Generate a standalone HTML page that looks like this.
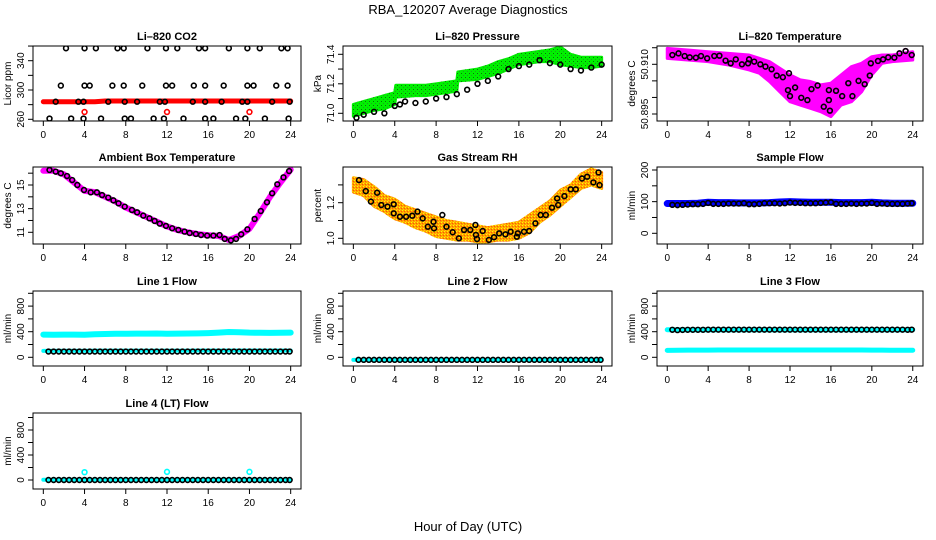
<!DOCTYPE html>
<html><head><meta charset="utf-8"><style>
html,body{margin:0;padding:0;background:#fff;}
svg{display:block;font-family:"Liberation Sans",Arial,sans-serif;}
</style></head><body>
<svg id="chart" width="936" height="540" viewBox="0 0 936 540" xmlns="http://www.w3.org/2000/svg">
<defs>
<pattern id="pg" width="4" height="4" patternUnits="userSpaceOnUse"><rect width="4" height="4" fill="#00f000"/><rect x="1" y="1" width="1" height="1" fill="#008000"/><rect x="3" y="3" width="1" height="1" fill="#20a020"/></pattern>
<pattern id="po" width="3" height="3" patternUnits="userSpaceOnUse"><rect width="3" height="3" fill="#ff9f00"/><rect width="1" height="1" fill="#ffff00"/><rect x="2" y="1" width="1" height="1" fill="#ff5a00"/><rect x="1" y="2" width="1" height="1" fill="#ffd000"/></pattern>
</defs>
<text x="468" y="14" text-anchor="middle" font-size="13">RBA_120207  Average Diagnostics</text>
<text x="468" y="531" text-anchor="middle" font-size="13">Hour of Day (UTC)</text>
<g id="plots"></g>
</svg>
<script>
// ---------- data ----------
const xTicks=[0,4,8,12,16,20,24];
const hrs=[0,1,2,3,4,5,6,7,8,9,10,11,12,13,14,15,16,17,18,19,20,21,22,23,24];
const halfHrs=[0.5,1,1.5,2,2.5,3,3.5,4,4.5,5,5.5,6,6.5,7,7.5,8,8.5,9,9.5,10,10.5,11,11.5,12,12.5,13,13.5,14,14.5,15,15.5,16,16.5,17,17.5,18,18.5,19,19.5,20,20.5,21,21.5,22,22.5,23,23.5,23.9];

// CO2
const co2BlackX=[2.2,4.0,5.1,7.2,7.8,10.1,11.9,13.0,15.1,15.7,18.0,19.8,21.0,23.1,23.7, 1.7,4.0,4.5,6.7,7.8,9.6,11.9,12.5,14.6,15.7,17.5,19.8,20.4,22.6,23.7, 0.6,2.7,3.9,5.6,7.9,8.5,10.7,11.7,13.6,15.7,16.5,18.7,19.6,21.5,23.8, 1.2,3.4,3.9,6.3,7.9,9.1,11.3,11.8,14.5,15.7,17.3,19.3,19.8,22.2,23.9];
const co2BlackY=[357,357,357,357,357,357,357,357,357,357,357,357,357,357,357, 306,306,306,306,306,306,306,306,306,306,306,306,306,306,306, 261,261,261,261,261,261,261,261,261,261,261,261,261,261,261, 284,284,284,284,284,284,284,284,284,284,284,284,284,284,284];
const co2RedBand=[284,284,284,284,284,284,285,285,285,285,285,285,285,285,285,285,285,285,285,285,285,285,285,285,285];
const co2RedX=[4,12,20];
const co2RedY=[270,270,270];

// Pressure
const presLow=[70.98,71.00,71.02,71.03,71.06,71.11,71.12,71.12,71.13,71.14,71.15,71.22,71.23,71.25,71.27,71.30,71.33,71.34,71.35,71.35,71.33,71.32,71.31,71.31,71.32];
const presHigh=[71.06,71.08,71.10,71.12,71.14,71.19,71.19,71.19,71.20,71.21,71.22,71.28,71.30,71.32,71.35,71.37,71.40,71.41,71.42,71.43,71.45,71.40,71.38,71.38,71.38];
const presBlackX=[0.3,1,2,3,4,4.5,5,6,7,8,9,10,11,12,13,14,15,16,17,18,19,20,21,22,23,24];
const presBlackY=[70.97,70.99,71.01,71.00,71.05,71.06,71.08,71.07,71.08,71.10,71.11,71.13,71.16,71.20,71.22,71.25,71.30,71.32,71.33,71.36,71.34,71.33,71.30,71.29,71.31,71.33];

// Li-820 temperature
const tempLowX=[0,2,4,6,8,9,10,11,12,13,14,15,16,17,18,19,20,21,22,24];
const tempHigh=[50.9148,50.9143,50.9138,50.9133,50.9128,50.9118,50.9108,50.9088,50.9068,50.9053,50.9048,50.9038,50.9043,50.9068,50.9093,50.9103,50.9123,50.9128,50.9128,50.9138];
const tempLow=[50.9118,50.9113,50.9108,50.9098,50.9083,50.9073,50.9048,50.9017,50.8987,50.8977,50.8967,50.8957,50.8942,50.8977,50.8987,50.9017,50.9068,50.9103,50.9108,50.9113];
const tempBlackX=[0.5,1.1,1.7,2.2,2.8,3.3,3.9,4.6,5.1,5.7,6.2,6.7,7.3,7.9,8.0,8.5,9.1,9.6,10.2,10.7,11.3,11.9,11.8,12.0,12.5,13.1,13.7,14.1,14.7,15.3,15.8,15.8,15.9,16.5,17.1,17.7,18.1,18.7,19.3,19.8,19.9,20.6,21.1,21.6,22.2,22.7,23.3,23.9];
const tempBlackY=[50.9128,50.9133,50.9125,50.9121,50.912,50.9125,50.9118,50.9125,50.9126,50.9111,50.9103,50.9115,50.910,50.9103,50.9115,50.9108,50.910,50.9093,50.9085,50.9066,50.9061,50.9073,50.9022,50.9004,50.903,50.8999,50.8992,50.9025,50.9036,50.8972,50.8992,50.9022,50.896,50.902,50.9004,50.9043,50.9004,50.905,50.904,50.9066,50.9103,50.911,50.9115,50.9121,50.912,50.9133,50.914,50.9128];

// Ambient box temperature
const ambBand=[16.2,16.2,15.9,15.2,14.5,14.4,14.0,13.6,13.1,12.7,12.3,11.9,11.5,11.2,11.0,10.85,10.75,10.7,10.35,10.7,11.3,12.6,14.0,15.2,16.3];
const ambBlackX=[0.6,1.2,1.7,2.3,2.8,3.3,3.95,4.6,5.2,5.7,6.3,6.8,7.3,7.9,8.6,9.1,9.7,10.3,10.8,11.3,11.9,12.5,13.1,13.7,14.2,14.8,15.3,15.9,16.5,17.1,17.6,18.2,18.7,19.2,19.8,20.5,21.1,21.7,22.2,22.7,23.3,23.85];
const ambBlackY=[16.27,16.13,15.99,15.76,15.42,15.0,14.58,14.38,14.38,14.15,13.93,13.7,13.45,13.17,12.89,12.69,12.41,12.18,11.96,11.73,11.54,11.34,11.2,11.06,10.94,10.86,10.77,10.72,10.72,10.77,10.44,10.32,10.44,10.83,11.25,12.13,12.8,13.54,14.3,15.06,15.65,16.18];

// Gas stream RH
const rhLow=[1.26,1.24,1.18,1.15,1.11,1.09,1.06,1.04,1.01,1.00,0.99,0.99,0.98,0.98,0.99,0.99,1.00,1.03,1.09,1.13,1.18,1.23,1.28,1.30,1.28];
const rhHigh=[1.34,1.33,1.29,1.24,1.22,1.18,1.16,1.14,1.12,1.10,1.09,1.08,1.07,1.06,1.07,1.08,1.09,1.13,1.17,1.21,1.27,1.30,1.36,1.39,1.37];
const rhBlackX=[0.55,1.2,1.7,2.3,2.7,3.3,3.9,3.9,4.5,5.1,5.7,6.2,6.7,7.2,7.75,7.8,8.6,9.0,9.6,10.2,10.7,11.3,11.8,11.85,11.95,12.5,13.1,13.6,14.1,14.7,15.2,15.8,15.9,16.5,17.0,17.6,18.1,18.6,19.2,19.7,19.8,20.4,21.0,21.5,22.1,22.6,23.2,23.7,23.8];
const rhBlackY=[1.327,1.265,1.206,1.256,1.187,1.178,1.191,1.14,1.121,1.121,1.127,1.15,1.112,1.065,1.093,1.056,1.131,1.065,1.034,1.0,1.047,1.047,1.075,1.019,0.996,1.041,0.991,1.006,1.028,1.022,1.037,1.009,1.028,1.037,1.041,1.084,1.131,1.131,1.172,1.224,1.187,1.237,1.275,1.275,1.336,1.346,1.314,1.37,1.299];

// Sample flow
const sampleBand=[94,94,94,95,98,97,97,96,96,96,97,99,100,99,98,98,98,97,97,97,98,96,95,95,95];
const sampleBlack=[90,89,90,91,92,92,93,96,93,93,93,94,94,94,95,92,92,93,95,95,95,94,95,97,96,96,95,95,95,96,97,98,93,93,93,94,93,94,94,96,93,94,93,93,93,93,94,95];

// Line 1 flow
const l1Upper=[355,352,355,354,352,360,365,367,368,369,370,371,368,370,372,374,378,385,395,392,385,383,382,384,385];
const l1Lower=[100,102,103,103,103,104,104,104,104,104,105,105,105,105,105,106,106,106,106,106,106,106,106,106,106];
const l1Black=[90,90,90,90,90,90,90,90,90,90,90,90,90,90,90,90,90,90,90,90,90,90,90,90,90,90,90,90,90,90,90,90,90,90,90,90,90,90,90,90,90,90,90,90,90,90,90,90];

// Line 2 flow
const l2Band=[-40,-40,-40,-40,-40,-40,-40,-40,-40,-40,-40,-40,-40,-40,-40,-40,-40,-40,-40,-40,-40,-40,-40,-40,-40];
const l2Black=[-40,-40,-40,-40,-40,-40,-40,-40,-40,-40,-40,-40,-40,-40,-40,-40,-40,-40,-40,-40,-40,-40,-40,-40,-40,-40,-40,-40,-40,-40,-40,-40,-40,-40,-40,-40,-40,-40,-40,-40,-40,-40,-40,-40,-40,-40,-40,-40];

// Line 3 flow
const l3Upper=[430,428,428,428,428,428,428,428,428,428,428,428,428,428,428,428,428,428,428,428,428,428,428,428,430];
const l3Lower=[108,110,112,112,112,114,114,114,114,114,114,114,114,114,114,114,114,114,114,114,112,112,110,110,110];
const l3Black=[430,425,428,430,430,430,430,432,432,432,432,432,432,432,432,432,432,432,432,432,432,432,432,432,432,432,432,432,432,432,432,432,432,432,432,432,432,432,432,432,432,432,432,432,432,432,430,432];

// Line 4 flow
const l4Band=[5,5,5,5,5,5,5,5,5,5,5,5,5,5,5,5,5,5,5,5,5,5,5,5,5];
const l4Black=[0,0,0,0,0,0,0,0,0,0,0,0,0,0,0,0,0,0,0,0,0,0,0,0,0,0,0,0,0,0,0,0,0,0,0,0,0,0,0,0,0,0,0,0,0,0,0,0];
const l4OutX=[4,12,20];
const l4OutY=[125,130,130];

// ---------- layout ----------
const NS='http://www.w3.org/2000/svg';
const root=document.getElementById('plots');
function mk(tag,attrs,parent){const e=document.createElementNS(NS,tag);for(const k in attrs)e.setAttribute(k,attrs[k]);(parent||root).appendChild(e);return e;}
const colL=[33,343,657], colW=[268,269,266];
const rowT=[46,167,291,413], rowB=[121,244,366,489];

function makePanel(o){
  const L=colL[o.c], W=colW[o.c], T=rowT[o.r], B=rowB[o.r];
  const g=mk('g',{});
  
  
  const x0=L+W*0.0385, x24=L+W*0.9615;
  const X=h=>x0+(x24-x0)*h/24;
  const Y=v=>o.p1+(v-o.v1)*(o.p2-o.p1)/(o.v2-o.v1);
  o.X=X;o.Y=Y;o.g=g;
  const t=mk('text',{x:(L+W/2),y:T-6,'text-anchor':'middle','font-size':'11','font-weight':'bold'},g);
  t.textContent=o.title;
  
  
  const cp=mk('clipPath',{id:'cp'+o.id},g);
  mk('rect',{x:L,y:T,width:W,height:B-T},cp);
  const pg=mk('g',{'clip-path':'url(#cp'+o.id+')'},g);
  o.pg=pg;
  const box=mk('rect',{x:L,y:T,width:W,height:B-T,fill:'none',stroke:'#000','stroke-width':1},g);
  
  
  const xa=mk('g',{},g);
  
  
  xTicks.forEach(h=>{
    mk('line',{x1:X(h),x2:X(h),y1:B,y2:B+5,stroke:'#000'},xa);
    const tl=mk('text',{x:X(h),y:B+17,'text-anchor':'middle','font-size':'10'},xa);
    tl.textContent=h;
  });
  const ya=mk('g',{},g);
  
  
  o.ticks.forEach(v=>{
    const y=Y(v);
    mk('line',{x1:L-5,x2:L,y1:y,y2:y,stroke:'#000'},ya);
  });
  o.labels.forEach(v=>{
    const y=Y(v);
    const tl=mk('text',{x:L-9,y:y,'text-anchor':'middle','font-size':'10',transform:'rotate(-90 '+(L-9)+' '+y+')'},ya);
    tl.textContent=o.fmt?o.fmt(v):v;
  });
  const yl=mk('text',{x:L-22,y:(T+B)/2,'text-anchor':'middle','font-size':'10',transform:'rotate(-90 '+(L-22)+' '+((T+B)/2)+')'},g);
  yl.textContent=o.ylab;
  
  
  return o;
}
function band(o,xsArr,vals,color,w,name){
  const p=mk('polyline',{points:xsArr.map((h,i)=>o.X(h)+','+o.Y(vals[i])).join(' '),fill:'none',stroke:color,'stroke-width':w,'stroke-linejoin':'round','stroke-linecap':'round'},o.pg);
  
  
}
function area(o,xsArr,lo,hi,fill,name){
  const pts=xsArr.map((h,i)=>o.X(h)+','+o.Y(hi[i])).concat(xsArr.slice().reverse().map((h,j)=>{const i=xsArr.length-1-j;return o.X(h)+','+o.Y(lo[i]);}));
  const p=mk('polygon',{points:pts.join(' '),fill:fill,stroke:fill,'stroke-width':3,'stroke-linejoin':'round'},o.pg);
  
  
}
function pts(o,xsArr,vals,color,name){
  const g=mk('g',{},o.pg);
  
  
  xsArr.forEach((h,i)=>{
    const c=mk('circle',{cx:o.X(h),cy:o.Y(vals[i]),r:2.4,fill:'none',stroke:color,'stroke-width':1.6},g);
    
    
  });
}
const flowTicks=[0,200,400,600,800,1000], flowLabels=[0,400,800];

let p=makePanel({id:'co2',c:0,r:0,title:'Li\u2013820 CO2',ylab:'Licor ppm',v1:260,p1:119.3,v2:340,p2:60.7,ticks:[260,280,300,320,340,360],labels:[260,300,340]});
band(p,hrs,co2RedBand,'#ff0000',5,'co2-red-series');
pts(p,co2RedX,co2RedY,'#ff0000','co2-red-outliers');
pts(p,co2BlackX,co2BlackY,'#000','co2-black-series');

p=makePanel({id:'pressure',c:1,r:0,title:'Li\u2013820 Pressure',ylab:'kPa',v1:71.0,p1:113.3,v2:71.4,p2:54.3,ticks:[71.0,71.1,71.2,71.3,71.4],labels:[71.0,71.2,71.4],fmt:v=>v.toFixed(1)});
const presX=[0,1,2,3,4,4.1,6,7,8,9,10,10.1,12,13,14,15,16,17,18,19,20,21,22,23,24];
area(p,presX,presLow,presHigh,'url(#pg)','pressure-green-series');
pts(p,presBlackX,presBlackY,'#000','pressure-black-series');

p=makePanel({id:'temperature',c:2,r:0,title:'Li\u2013820 Temperature',ylab:'degrees C',v1:50.910,p1:64.3,v2:50.895,p2:114,ticks:[50.895,50.900,50.905,50.910,50.915],labels:[50.895,50.910],fmt:v=>v.toFixed(3)});
area(p,tempLowX,tempLow,tempHigh,'#ff00ff','temperature-magenta-series');
pts(p,tempBlackX,tempBlackY,'#ff00ff','temperature-magenta-points');
pts(p,tempBlackX,tempBlackY,'#000','temperature-black-series');

p=makePanel({id:'ambient',c:0,r:1,title:'Ambient Box Temperature',ylab:'degrees C',v1:11,p1:232.3,v2:15,p2:185,ticks:[11,12,13,14,15,16],labels:[11,13,15]});
band(p,hrs,ambBand,'#ff00ff',6,'ambient-magenta-series');
pts(p,ambBlackX,ambBlackY,'#000','ambient-black-series');

p=makePanel({id:'rh',c:1,r:1,title:'Gas Stream RH',ylab:'percent',v1:1.0,p1:238.3,v2:1.2,p2:202.7,ticks:[1.0,1.1,1.2,1.3],labels:[1.0,1.2],fmt:v=>v.toFixed(1)});
area(p,hrs,rhLow,rhHigh,'url(#po)','rh-orange-series');
pts(p,rhBlackX,rhBlackY,'#000','rh-black-series');

p=makePanel({id:'sample-flow',c:2,r:1,title:'Sample Flow',ylab:'ml/min',v1:0,p1:233.3,v2:200,p2:170,ticks:[0,50,100,150,200],labels:[0,100,200]});
band(p,hrs,sampleBand,'#0000ff',7,'sample-flow-blue-series');
pts(p,halfHrs,sampleBlack,'#000','sample-flow-black-series');

p=makePanel({id:'line1',c:0,r:2,title:'Line 1 Flow',ylab:'ml/min',v1:0,p1:357.3,v2:400,p2:331.7,ticks:flowTicks,labels:flowLabels});
band(p,hrs,l1Upper,'#00ffff',6,'line1-cyan-upper');
band(p,hrs,l1Lower,'#00ffff',4,'line1-cyan-lower');
pts(p,halfHrs,l1Black,'#000','line1-black-series');

p=makePanel({id:'line2',c:1,r:2,title:'Line 2 Flow',ylab:'ml/min',v1:0,p1:357.3,v2:400,p2:331.7,ticks:flowTicks,labels:flowLabels});
band(p,hrs,l2Band,'#00ffff',4,'line2-cyan-series');
pts(p,halfHrs,l2Black,'#000','line2-black-series');

p=makePanel({id:'line3',c:2,r:2,title:'Line 3 Flow',ylab:'ml/min',v1:0,p1:357.3,v2:400,p2:331.7,ticks:flowTicks,labels:flowLabels});
band(p,hrs,l3Upper,'#00ffff',5,'line3-cyan-upper');
band(p,hrs,l3Lower,'#00ffff',5,'line3-cyan-lower');
pts(p,halfHrs,l3Black,'#000','line3-black-series');

p=makePanel({id:'line4',c:0,r:3,title:'Line 4 (LT) Flow',ylab:'ml/min',v1:0,p1:480,v2:400,p2:455,ticks:flowTicks,labels:flowLabels});
band(p,hrs,l4Band,'#00ffff',4,'line4-cyan-series');
pts(p,l4OutX,l4OutY,'#00ffff','line4-cyan-outliers');
pts(p,halfHrs,l4Black,'#000','line4-black-series');
</script>
</body></html>
